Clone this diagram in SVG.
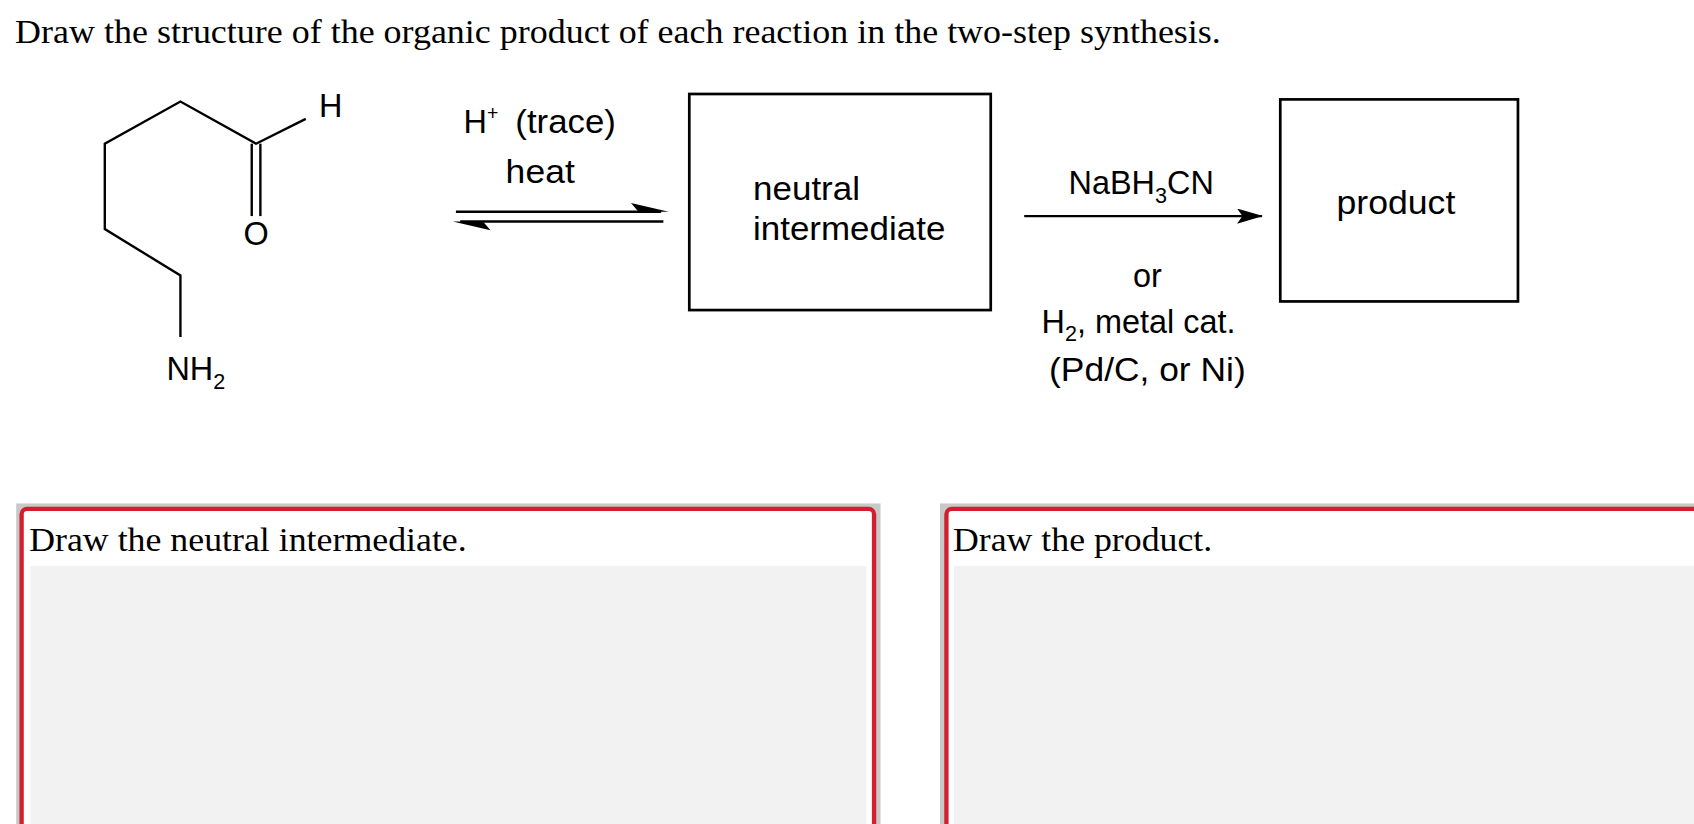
<svg xmlns="http://www.w3.org/2000/svg" width="1694" height="824" viewBox="0 0 1694 824">
<style>
.serif{font-family:"Liberation Serif",serif;font-size:32px;fill:#000}
.sans{font-family:"Liberation Sans",Arial,sans-serif;font-size:30px;fill:#000}
.bond{stroke:#000;stroke-width:2.2;fill:none}
.box{stroke:#000;stroke-width:2.5;fill:#fff}
</style>
<defs>
<marker id="ah" markerWidth="24" markerHeight="14" refX="23" refY="7" orient="auto" markerUnits="userSpaceOnUse"><path d="M0,0 L24,7 L0,14 L5,7 Z" fill="#000"/></marker>
</defs>
<rect width="1694" height="824" fill="#fff"/>
<g transform="scale(1.0804)">
<text class="serif" x="14" y="40" textLength="1116" lengthAdjust="spacingAndGlyphs">Draw the structure of the organic product of each reaction in the two-step synthesis.</text>
<g id="reactant">
<polyline class="bond" points="167,312 167,255 97,212 97,133 167,94 237,133 283,110"/>
<line class="bond" x1="233" y1="133" x2="233" y2="200"/>
<line class="bond" x1="241" y1="133" x2="241" y2="200"/>
<text class="sans" x="306" y="108" text-anchor="middle">H</text>
<text class="sans" x="237" y="227" text-anchor="middle">O</text>
<text class="sans" x="154" y="352">NH<tspan font-size="20" dy="8">2</tspan></text>
</g>
<g id="connectors">
<line class="bond" x1="422" y1="196" x2="612" y2="196"/>
<path d="M619,196 L584,188 L591,196 Z" fill="#000"/>
<line class="bond" x1="426" y1="205" x2="614" y2="205"/>
<path d="M419,205 L454,213 L447,205 Z" fill="#000"/>
<line class="bond" x1="948" y1="200" x2="1168" y2="200" marker-end="url(#ah)"/>
</g>
<g id="cond1">
<text class="sans" x="429" y="123">H<tspan font-size="18" dy="-12">+</tspan></text>
<text class="sans" x="477" y="123" textLength="93" lengthAdjust="spacingAndGlyphs">(trace)</text>
<text class="sans" x="500" y="169" text-anchor="middle" textLength="64" lengthAdjust="spacingAndGlyphs">heat</text>
</g>
<g id="intermediate">
<rect class="box" x="638" y="87" width="279" height="200"/>
<text class="sans" x="697" y="185" textLength="99" lengthAdjust="spacingAndGlyphs">neutral</text>
<text class="sans" x="697" y="222" textLength="178" lengthAdjust="spacingAndGlyphs">intermediate</text>
</g>
<g id="cond2">
<text class="sans" x="989" y="180">NaBH<tspan font-size="20" dy="8">3</tspan><tspan dy="-8">CN</tspan></text>
<text class="sans" x="1062" y="266" text-anchor="middle">or</text>
<text class="sans" x="964" y="308">H<tspan font-size="20" dy="8">2</tspan><tspan dy="-8">, metal cat.</tspan></text>
<text class="sans" x="1062" y="353" text-anchor="middle" textLength="182" lengthAdjust="spacingAndGlyphs">(Pd/C, or Ni)</text>
</g>
<g id="product">
<rect class="box" x="1185" y="92" width="220" height="187"/>
<text class="sans" x="1292" y="198" text-anchor="middle" textLength="110" lengthAdjust="spacingAndGlyphs">product</text>
</g>
<g id="panel1">
<rect x="15" y="466" width="800" height="310" fill="#c8c8c8"/>
<rect x="20" y="471" width="789" height="310" rx="5" fill="#fff" stroke="#d21f2f" stroke-width="4"/>
<rect x="28" y="524" width="774" height="260" fill="#f2f2f2"/>
<text class="serif" x="27" y="510" textLength="405" lengthAdjust="spacingAndGlyphs">Draw the neutral intermediate.</text>
</g>
<g id="panel2">
<rect x="870" y="466" width="720" height="310" fill="#c8c8c8"/>
<rect x="876" y="471" width="720" height="310" rx="5" fill="#fff" stroke="#d21f2f" stroke-width="4"/>
<rect x="883" y="524" width="700" height="260" fill="#f2f2f2"/>
<text class="serif" x="882" y="510" textLength="240" lengthAdjust="spacingAndGlyphs">Draw the product.</text>
</g>
</g>
</svg>
